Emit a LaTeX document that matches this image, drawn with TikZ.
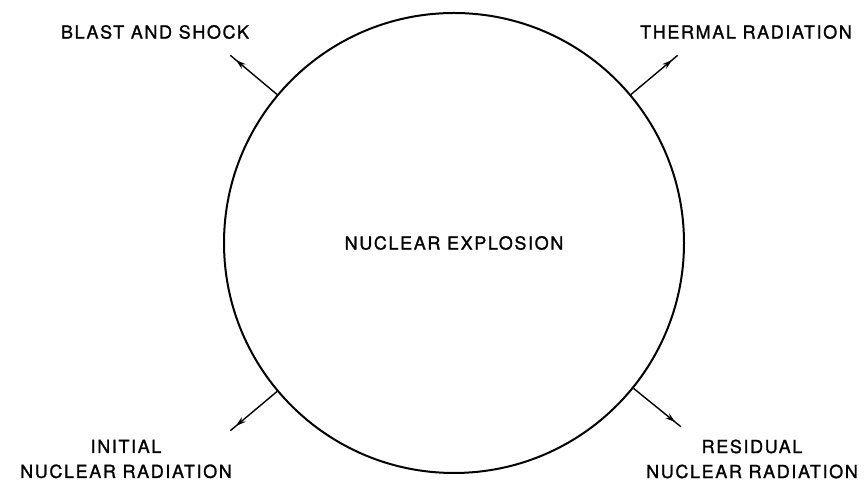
\documentclass[tikz,border=0pt]{standalone}
\usepackage{fontspec}
\newfontfamily\lblfont[LetterSpace=9,FakeBold=1.2]{TeX Gyre Heros}
\usepackage{tikz}
\usetikzlibrary{arrows.meta,calc,decorations.markings}

\begin{document}
\begin{tikzpicture}[x=1pt,y=1pt,
  ring/.style={draw,circle,minimum size=460pt,inner sep=0pt,line width=2pt,
               font=\lblfont\fontsize{18}{25}\selectfont},
  lbl/.style={align=center,font=\lblfont\fontsize{18}{25}\selectfont},
  arr/.style={line width=1.4pt,
              decoration={markings,mark=at position 0.88 with
                {\arrow{Stealth[length=10pt,width=6pt]}}},
              postaction={decorate}}
]
\useasboundingbox (0,0) rectangle (865,486);
\node[ring] (expl) at (454,243) {NUCLEAR EXPLOSION};

\coordinate (bs) at ($(expl.center)+(140:292)$);
\coordinate (th) at ($(expl.center)+(40:292)$);
\coordinate (in) at ($(expl.center)+(220:292)$);
\coordinate (rs) at ($(expl.center)+(-39:292)$);

\draw[arr] (expl.140) -- (bs);
\draw[arr] (expl.40) -- (th);
\draw[arr] (expl.220) -- (in);
\draw[arr] (expl.-39) -- (rs);

\node[lbl] (blast) at (155,454) {BLAST AND SHOCK};
\node[lbl] (therm) at (746,454) {THERMAL RADIATION};
\node[lbl] (init) at (126,27) {INITIAL\\NUCLEAR RADIATION};
\node[lbl] (resid) at (752,27) {RESIDUAL\\NUCLEAR RADIATION};
\end{tikzpicture}
\end{document}
